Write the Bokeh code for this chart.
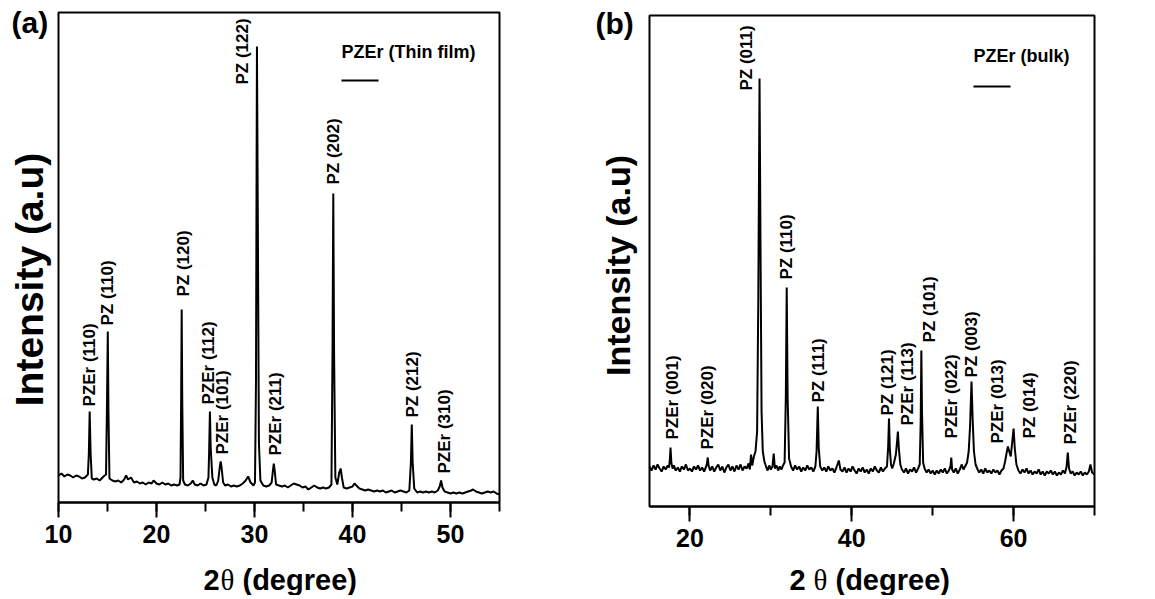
import math
from bokeh.plotting import figure
from bokeh.layouts import row
from bokeh.models import Range1d, SingleIntervalTicker, Label, BoxAnnotation, ColumnDataSource
from bokeh.core.properties import value
from bokeh.embed import file_html
from bokeh.resources import INLINE

# ---------------- data: panel (a) thin film ----------------
tt_a = [10.0, 10.3, 10.6, 10.9, 11.2, 11.5, 11.8, 12.1, 12.4, 12.7, 12.9,
        13.0, 13.1, 13.18, 13.28, 13.4,
        13.6, 13.9, 14.2, 14.5, 14.7,
        14.85, 14.95, 15.03, 15.1, 15.2,
        15.5, 15.8, 16.1, 16.4, 16.7, 16.9, 17.1, 17.4, 17.7, 18.0, 18.3, 18.6, 18.9, 19.2, 19.5, 19.7, 20.0, 20.3, 20.6, 20.9, 21.2, 21.5, 21.8, 22.1, 22.35,
        22.45, 22.52, 22.57, 22.63, 22.72,
        22.9, 23.2, 23.5, 23.7, 23.9, 24.2, 24.5, 24.8, 25.1, 25.3,
        25.37, 25.45, 25.53, 25.7, 25.9, 26.1, 26.3,
        26.45, 26.55, 26.65, 26.8, 27.0, 27.3, 27.6, 27.9, 28.2, 28.5, 28.8, 29.1, 29.35, 29.6, 29.9, 30.05,
        30.15, 30.25, 30.33, 30.45, 30.6, 30.9, 31.2, 31.5, 31.75,
        31.88, 31.97, 32.06, 32.2, 32.5, 32.8, 33.1, 33.4, 33.7, 34.0, 34.3, 34.6, 34.9, 35.2, 35.5, 35.8, 36.1, 36.4, 36.7, 37.0, 37.3, 37.6, 37.85,
        37.96, 38.04, 38.12, 38.25, 38.45, 38.65, 38.79, 38.92, 39.1, 39.4, 39.7, 40.0, 40.2, 40.4, 40.7, 41.0, 41.3, 41.6, 41.9, 42.2, 42.5, 42.8, 43.1, 43.4, 43.7, 44.0, 44.3, 44.6, 44.9, 45.2, 45.5, 45.8,
        45.96, 46.05, 46.14, 46.3, 46.6, 46.9, 47.2, 47.5, 47.8, 48.1, 48.4, 48.7, 48.9, 49.04, 49.18, 49.4, 49.7, 50.0, 50.3, 50.6, 50.9, 51.2, 51.5, 51.8, 52.1, 52.3, 52.6, 52.9, 53.2, 53.5, 53.8, 54.1, 54.4, 54.7, 55.0]
int_a = [27, 29, 26, 28, 27, 25, 27, 26, 24, 25, 27,
         28, 50, 91, 48, 24,
         23, 24, 22, 25, 27,
         28, 100, 171, 90, 24,
         22, 21, 22, 20, 23, 27, 23, 25, 20, 21, 19, 20, 18, 20, 19, 22, 19, 18, 20, 18, 19, 17, 18, 17, 18,
         25, 110, 193, 100, 22,
         18, 17, 19, 22, 18, 17, 19, 17, 18, 25,
         50, 91, 55, 25, 18, 17, 22,
         35, 41, 34, 20, 17, 18, 16, 17, 16, 17, 19, 22, 26, 20, 17, 20,
         120, 456, 300, 60, 22, 17, 16, 17, 20,
         32, 39, 32, 18, 17, 16, 17, 15, 17, 19, 18, 17, 15, 16, 13, 15, 17, 15, 14, 15, 14, 15, 18,
         150, 309, 150, 25, 18, 30, 34, 25, 15, 14, 15, 16, 19, 17, 14, 13, 12, 13, 12, 11, 12, 11, 12, 10, 11, 12, 10, 11, 12, 11, 10, 12,
         40, 78, 40, 14, 10, 11, 10, 11, 10, 11, 10, 12, 16, 22, 15, 11, 10, 9, 10, 9, 10, 9, 10, 11, 12, 13, 11, 10, 9, 10, 11, 10, 11, 9, 8]

peak_pos_a = [13.18, 15.03, 22.57, 25.45, 26.55, 30.25, 31.97, 38.04, 46.05, 49.04]
peak_int_a = [91, 171, 193, 91, 41, 456, 39, 309, 78, 22]
peak_lbl_a = ["PZEr (110)", "PZ (110)", "PZ (120)", "PZEr (112)", "PZEr (101)",
              "PZ (122)", "PZEr (211)", "PZ (202)", "PZ (212)", "PZEr (310)"]

# ---------------- data: panel (b) bulk ----------------
tt_b = [15.0, 15.25, 15.5, 15.75, 16.0, 16.25, 16.5, 16.75, 17.0, 17.25, 17.4,
        17.5, 17.6, 17.7, 17.85,
        18.0, 18.25, 18.5, 18.75, 19.0, 19.25, 19.5, 19.75, 20.0, 20.25, 20.5, 20.75, 21.0, 21.25, 21.5, 21.75, 22.0,
        22.1, 22.2, 22.3, 22.5, 22.75, 23.0, 23.25, 23.5, 23.75, 24.0, 24.25, 24.5, 24.75, 25.0, 25.25, 25.5, 25.75, 26.0, 26.25, 26.5, 26.75, 27.0, 27.25, 27.4,
        27.55, 27.7, 27.9, 28.1, 28.3, 28.45, 28.6, 28.72, 28.85, 29.0, 29.2, 29.4, 29.6, 29.8, 30.0, 30.2, 30.35, 30.5, 30.7, 30.9, 31.1, 31.3, 31.5, 31.7,
        31.85, 31.96, 32.07, 32.25, 32.5, 32.75, 33.0, 33.25, 33.5, 33.75, 34.0, 34.25, 34.5, 34.75, 35.0, 35.25, 35.5,
        35.65, 35.8, 35.92, 36.1, 36.35, 36.6, 36.85, 37.1, 37.35, 37.6, 37.85, 38.1, 38.4, 38.6, 38.85, 39.1, 39.35, 39.6, 39.85, 40.1, 40.35, 40.6, 40.85, 41.1, 41.35, 41.6, 41.85, 42.1, 42.35, 42.6, 42.85, 43.1, 43.35, 43.6, 43.85, 44.1, 44.35,
        44.5, 44.6, 44.7, 44.85, 45.0, 45.2, 45.45, 45.6, 45.7, 45.82, 46.0, 46.2, 46.45, 46.7, 46.95, 47.2, 47.45, 47.7, 47.95, 48.2, 48.4,
        48.52, 48.6, 48.68, 48.82, 49.0, 49.25, 49.5, 49.75, 50.0, 50.25, 50.5, 50.75, 51.0, 51.25, 51.5, 51.75, 52.0, 52.2,
        52.3, 52.4, 52.6, 52.85, 53.1, 53.35, 53.6, 53.8, 54.0, 54.25, 54.45, 54.62, 54.8, 54.95, 55.1, 55.3, 55.5, 55.75, 56.0, 56.25, 56.5, 56.75, 57.0, 57.25, 57.5, 57.75, 58.0, 58.25, 58.5, 58.75,
        58.95, 59.1, 59.3, 59.5, 59.65, 59.85, 60.0, 60.15, 60.35, 60.6, 60.85, 61.1, 61.35, 61.6, 61.85, 62.1, 62.35, 62.6, 62.85, 63.1, 63.35, 63.6, 63.85, 64.1, 64.35, 64.6, 64.85, 65.1, 65.35, 65.6, 65.85, 66.1, 66.35,
        66.55, 66.7, 66.85, 67.05, 67.3, 67.55, 67.8, 68.05, 68.3, 68.55, 68.8, 69.05, 69.3, 69.5, 69.7, 70.0]
int_b = [40, 36, 41, 37, 42, 38, 35, 40, 37, 41, 39,
         45, 59, 44, 38,
         41, 36, 39, 35, 40, 37, 42, 36, 38, 35, 40, 37, 41, 36, 39, 35, 40,
         43, 49, 41, 36, 40, 35, 39, 42, 36, 40, 34, 39, 42, 36, 40, 35, 41, 37, 42, 36, 40, 38, 43, 37,
         52, 41, 50, 55, 75, 210, 428, 260, 95, 55, 45, 40, 36, 41, 37, 40, 53, 38, 41, 36, 40, 37, 41, 44,
         110, 219, 110, 48, 40, 36, 41, 37, 40, 35, 39, 36, 41, 37, 39, 35, 40,
         55, 100, 58, 40, 36, 39, 35, 40, 36, 38, 34, 39, 46, 37, 35, 39, 34, 38, 35, 40, 36, 33, 38, 35, 39, 34, 37, 33, 38, 35, 40, 36, 34, 39, 35, 38, 40,
         60, 88, 58, 42, 38, 43, 52, 65, 75, 58, 42, 37, 34, 38, 33, 37, 35, 39, 34, 38, 42,
         85, 156, 95, 44, 38, 34, 37, 33, 36, 32, 36, 33, 37, 34, 38, 33, 36, 40,
         49, 37, 34, 38, 33, 37, 42, 37, 40, 44, 55, 80, 125, 85, 55, 42, 38, 34, 37, 33, 38, 34, 36, 33, 37, 34, 36, 32, 36, 38,
         45, 52, 60, 54, 50, 66, 78, 58, 42, 36, 33, 37, 34, 38, 33, 36, 32, 35, 33, 37, 32, 35, 31, 35, 33, 36, 32, 35, 31, 34, 32, 36, 33,
         40, 54, 38, 33, 35, 31, 34, 32, 35, 31, 34, 32, 35, 42, 34, 32]

peak_pos_b = [17.6, 22.2, 28.6, 31.96, 35.8, 44.6, 45.7, 48.6, 52.3, 54.8, 59.3, 60.0, 66.7]
peak_int_b = [59, 49, 428, 219, 100, 88, 75, 156, 49, 125, 60, 78, 54]
peak_lbl_b = ["PZEr (001)", "PZEr (020)", "PZ (011)", "PZ (110)", "PZ (111)", "PZ (121)",
              "PZEr (113)", "PZ (101)", "PZEr (022)", "PZ (003)", "PZEr (013)", "PZ (014)", "PZEr (220)"]

# ---------------- label placement (screen px offsets from each peak top) ----------------
lbl_dx_a = [0, 0, 1.5, -1.5, 2, -14, 2, 0.6, 0.7, 3]
lbl_gap_a = [5, 6, 13, 7, 7, -38, 8, 9, 7, 7]
lbl_dx_b = [2, 0, -13.5, 0, 0.7, -1.5, 9.8, 8, 0.7, 0.3, -10, 15.8, 3]
lbl_gap_b = [8, 8, -12, 8, 4, 3, 6, 8, 19, 4, 3, -10, 8]

SANS = "Liberation Sans"
SERIF = "Liberation Serif"
FIG_H = 595


def make_panel(tt, inten, pk_pos, pk_int, pk_lbl, dxs, gaps, xspan, box_px, fig_px,
               interval, letter, letter_px, ylab_px, ylab_size, legend, legend_px, line_px,
               title_px, title_gaps):
    # box_px: (left, top, right, bottom) of the plotting box in page pixels
    # fig_px: (left, right) of the whole figure in page pixels (figure top = page 0)
    bl, bt, br, bb = box_px
    fl, fr = fig_px
    pxdeg = (br - bl) / (xspan[1] - xspan[0])
    x0 = xspan[0] - (bl - fl) / pxdeg
    x1 = xspan[1] + (fr - br) / pxdeg
    p = figure(frame_width=fr - fl, frame_height=FIG_H, x_range=Range1d(x0, x1),
               y_range=Range1d(bb - FIG_H, bb), min_border=0, min_border_left=0,
               min_border_right=0, min_border_top=0, min_border_bottom=0,
               output_backend="svg", toolbar_location=None)
    p.grid.visible = False
    p.yaxis.visible = False
    p.outline_line_color = None
    ax = p.xaxis[0]
    ax.fixed_location = 0
    ax.bounds = xspan
    ax.ticker = SingleIntervalTicker(interval=interval, num_minor_ticks=2)
    ax.axis_line_width = 2
    ax.axis_line_color = "black"
    ax.major_tick_line_width = 2
    ax.minor_tick_line_width = 2
    ax.major_tick_line_color = "black"
    ax.minor_tick_line_color = "black"
    ax.major_tick_in = 0
    ax.major_tick_out = 15
    ax.minor_tick_in = 0
    ax.minor_tick_out = 9
    ax.major_label_text_font = SANS
    ax.major_label_text_font_style = "bold"
    ax.major_label_text_font_size = "25px"
    ax.major_label_text_color = "black"
    ax.major_label_standoff = 7

    # plotting box (frame of the original chart)
    p.add_layout(BoxAnnotation(left=xspan[0], right=xspan[1], bottom=0, top=bb - bt,
                               fill_color=None, fill_alpha=0, line_color="black",
                               line_width=2, line_alpha=1))

    def dx(px):  # px measured right from the box's left edge
        return xspan[0] + px / pxdeg

    def dy(py):  # py measured down from the box's top edge
        return (bb - bt) - py

    p.line(tt, inten, line_color="black", line_width=2)

    src = ColumnDataSource(dict(
        x=[x + d / pxdeg for x, d in zip(pk_pos, dxs)],
        y=[i + g for i, g in zip(pk_int, gaps)],
        t=pk_lbl))
    p.text(x="x", y="y", text="t", source=src, angle=math.pi / 2, text_align="left",
           text_baseline="middle", text_font=value(SANS), text_font_style="bold",
           text_font_size="17px", text_color="black")

    def label(px, py, text, size, font=SANS, style="bold", angle=0.0, align="left", xoff=0):
        p.add_layout(Label(x=dx(px), y=dy(py), x_offset=xoff, text=text, angle=angle,
                           text_font=font, text_font_style=style, text_font_size=size,
                           text_color="black", text_align=align, text_baseline="middle"))

    label(letter_px[0], letter_px[1], letter, "30px")
    label(ylab_px[0], ylab_px[1], "Intensity (a.u)", ylab_size, angle=math.pi / 2, align="center")
    label(legend_px[0], legend_px[1], legend, "18px")
    p.add_layout(BoxAnnotation(left=dx(line_px[0]), right=dx(line_px[1]),
                               bottom=dy(line_px[2] + 1), top=dy(line_px[2] - 1),
                               fill_color="black", fill_alpha=1, line_color=None))
    # x-axis title: bold "2", serif theta, bold "(degree)"
    label(title_px[0], title_px[1], "2", "29px")
    label(title_px[0], title_px[1], "\u03b8", "29px", font=SERIF, style="normal",
          xoff=title_gaps[0])
    label(title_px[0], title_px[1], "(degree)", "29px", xoff=title_gaps[1])
    return p


pa = make_panel(tt_a, int_a, peak_pos_a, peak_int_a, peak_lbl_a, lbl_dx_a, lbl_gap_a,
                (10, 55), (58, 12, 499, 502), (0, 519), 10,
                "(a)", (-47, 10), (-29, 267), "39px", "PZEr (Thin film)", (283, 39),
                (283, 320, 68), (145, 567), (17, 39))
pb = make_panel(tt_b, int_b, peak_pos_b, peak_int_b, peak_lbl_b, lbl_dx_b, lbl_gap_b,
                (15, 70), (649, 15, 1094, 506), (519, 1104), 20,
                "(b)", (-54, 8), (-32, 250), "34px", "PZEr (bulk)", (324, 40),
                (324, 361, 71), (140, 564), (24, 46))

layout = row(pa, pb)
open("out.html", "w").write(file_html(layout, INLINE))
